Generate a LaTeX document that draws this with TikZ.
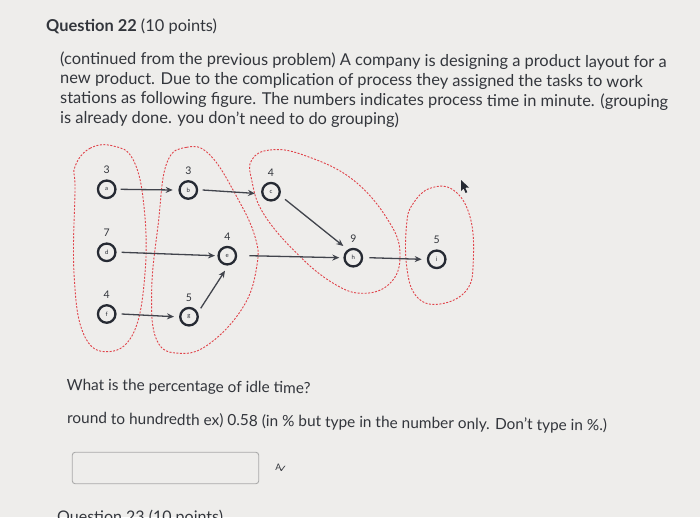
\documentclass[tikz,border=0pt]{standalone}
\usepackage{fontspec}
\setmainfont{Lato}
\newfontfamily\symfont{DejaVu Sans}
\usetikzlibrary{arrows.meta,positioning}
\definecolor{bg}{HTML}{EEEDEB}
\definecolor{txt}{HTML}{33363C}
\definecolor{ring}{HTML}{262A33}
\definecolor{arr}{HTML}{41444C}
\definecolor{grp}{HTML}{E0434A}
\definecolor{boxc}{HTML}{A9A9A9}
\tikzset{
  task/.style={circle, draw=ring, line width=2.3pt, minimum size=17.5pt, inner sep=0pt, font=\fontsize{6}{6}\selectfont, text=ring},
  tnum/.style={font=\fontsize{10.5}{10.5}\selectfont, text=txt, inner sep=0pt},
  flow/.style={draw=arr, line width=1.3pt, -{Stealth[length=7pt,width=6pt]}},
  group/.style={draw=grp, line width=0.9pt, dash pattern=on 2pt off 1.5pt},
  para/.style={anchor=base west, inner sep=0pt, text=txt, rotate=-0.35, font=\fontsize{16.4}{19}\selectfont},
  small/.style={anchor=base west, inner sep=0pt, text=txt, rotate=-0.8, font=\fontsize{15.4}{18}\selectfont},
}
\begin{document}
\begin{tikzpicture}[x=1pt,y=-1pt]
\useasboundingbox (0,0) rectangle (700,517);
\fill[bg] (0,0) rectangle (700,517);
\begin{scope}
\clip (0,0) rectangle (700,517);
% title
\node[anchor=base west, inner sep=0pt, text=txt, font=\fontsize{16.4}{19}\selectfont] (title) at (46,31.7) {\textbf{Question 22} (10 points)};
\node[para] (p1) at (60,64) {(continued from the previous problem) A company is designing a product layout for a};
\node[para] (p2) at (60,83.7) {new product. Due to the complication of process they assigned the tasks to work};
\node[para] (p3) at (60,103.4) {stations as following figure. The numbers indicates process time in minute. (grouping};
\node[para] (p4) at (60,123) {is already done. you don't need to do grouping)};

% groups
\draw[group] plot[smooth cycle, tension=0.7] coordinates {(75,166.7) (90,148.3) (113.3,146) (133.3,160) (144,206.7) (145,273.3) (133.3,333.3) (106.7,351.7) (83.3,333.3) (74,273.3) (75,190)};
\draw[group] plot[smooth cycle, tension=0.7] coordinates {(166.7,163.3) (186.7,147.3) (210,155) (236.7,196.7) (255,236.7) (256.7,266.7) (243.3,306.7) (210,343.3) (180,353.3) (156.7,340) (151.7,290) (158.3,223.3)};
\draw[group] plot[smooth cycle, tension=0.7] coordinates {(251.7,160) (270,150) (303.3,155) (353.3,180) (390,223.3) (400,256.7) (390,283.3) (363.3,293.3) (333.3,283.3) (296.7,253.3) (263.3,213.3) (251.7,180)};
\draw[group] plot[smooth cycle, tension=0.7] coordinates {(413.3,203.3) (430,188.3) (453.3,190) (470,216.7) (473.3,260) (466.7,290) (440,304) (416.7,296.7) (406.7,266.7) (406.7,223.3)};

% tasks
\node[task] (a) at (106.7,189.3) {a};
\node[task] (b) at (188.3,190) {b};
\node[task] (c) at (271,191.7) {c};
\node[task] (d) at (106.7,252.3) {d};
\node[task] (e) at (227.3,255.7) {e};
\node[task] (h) at (353.3,257.7) {h};
\node[task] (i) at (436.7,259.3) {i};
\node[task] (f) at (106.7,314) {f};
\node[task] (g) at (189,316.7) {g};
\foreach \n/\t in {a/3,b/3,c/4,d/7,e/4,h/9,i/5,f/4,g/5}
  \node[tnum, above=5.5pt of \n.north] (\n num) {\t};

% flows
\draw[flow] ([shift={(14,0)}]a.center) -- ([shift={(-15.6,0)}]b.center);
\draw[flow] ([shift={(14.4,0)}]b.center) -- ([shift={(-16,1.7)}]c.center);
\draw[flow] ([shift={(14,7.6)}]c.center) -- ([shift={(-10,-11.7)}]h.center);
\draw[flow] ([shift={(15,0)}]d.center) -- ([shift={(-12.3,0)}]e.center);
\draw[flow] ([shift={(22,0)}]e.center) -- ([shift={(-14,0)}]h.center);
\draw[flow] ([shift={(16,0)}]h.center) -- ([shift={(-15,0)}]i.center);
\draw[flow] ([shift={(15,0)}]f.center) -- ([shift={(-15,0)}]g.center);
\draw[flow] ([shift={(11.7,-8.4)}]g.center) -- ([shift={(-2.3,15)}]e.center);

% cursor
\fill[ring] (461,180) -- (461,191) -- (463.6,188.5) -- (465.6,193) -- (467.3,192.2) -- (465.3,187.8) -- (469,187.5) -- cycle;

% question
\node[small] (q1) at (66.5,390) {What is the percentage of idle time?};
\node[small] (q2) at (67,423.5) {round to hundredth ex) 0.58 (in \% but type in the number only. Don't type in \%.)};
\node[draw=boxc, line width=0.9pt, rounded corners=3pt, minimum width=186.5pt, minimum height=31.5pt, anchor=north west, inner sep=0pt] (ans) at (71.8,451.8) {};
\node[inner sep=0pt, text=txt, font=\fontsize{9}{9}\selectfont, right=16pt of ans.east] (spell) {A\kern-2.5pt\raisebox{-2pt}{\symfont\fontsize{10}{10}\selectfont ✓}};
\node[anchor=base west, inner sep=0pt, text=txt, font=\fontsize{16}{19}\selectfont] (next) at (57,522) {Question 23 (10 points)};
\end{scope}
\end{tikzpicture}
\end{document}
